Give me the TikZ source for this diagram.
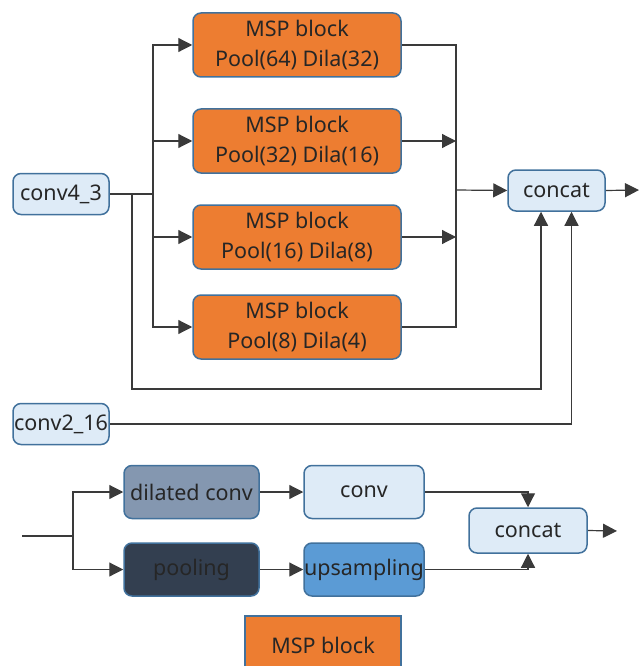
\documentclass[tikz,border=0pt]{standalone}
\usepackage{fontspec}
\setmainfont{Noto Sans}
\usetikzlibrary{arrows.meta}
\pgfdeclarelayer{edgelayer}
\pgfdeclarelayer{nodelayer}
\pgfsetlayers{edgelayer,nodelayer,main}
\definecolor{mspfill}{HTML}{ED7D31}
\definecolor{featfill}{HTML}{DEEBF7}
\definecolor{dilfill}{HTML}{8497B0}
\definecolor{poolfill}{HTML}{333F50}
\definecolor{upsfill}{HTML}{5B9BD5}
\definecolor{boxline}{HTML}{41719C}
\definecolor{linegray}{HTML}{3A3A3A}
\definecolor{textdark}{HTML}{262626}
\tikzstyle{edge}=[draw=linegray, line width=1.2pt]
\tikzstyle{arrow}=[edge, -{Triangle[length=14pt,width=14pt]}]
\tikzstyle{block}=[rectangle, rounded corners=8pt, draw=boxline, line width=1.5pt, text=textdark, inner sep=0pt, align=center, font=\fontsize{21.5}{30}\selectfont]
\tikzstyle{msp}=[block, fill=mspfill, minimum width=208pt, minimum height=64pt]
\tikzstyle{feat}=[block, fill=featfill, minimum width=96pt, minimum height=41pt]
\tikzstyle{unit}=[block, minimum width=135pt, minimum height=53pt]

\begin{document}
\begin{tikzpicture}[x=1pt,y=-1pt]
				\useasboundingbox (0,0) rectangle (640,666);
				\begin{pgfonlayer}{nodelayer}
					% multi-scale branch
					\node [style=feat] (conv43) at (61,194) {conv4\_3};
					\node [style=feat] (conv216) at (61,424) {conv2\_16};
					\node [style=msp] (msp1) at (297,45) {MSP block\\Pool(64) Dila(32)};
					\node [style=msp] (msp2) at (297,141) {MSP block\\Pool(32) Dila(16)};
					\node [style=msp] (msp3) at (297,237) {MSP block\\Pool(16) Dila(8)};
					\node [style=msp] (msp4) at (297,327) {MSP block\\Pool(8) Dila(4)};
					\node [style=feat, minimum width=97pt] (concat) at (556.5,190.5) {concat};
					% inside one MSP block
					\node [style=unit, fill=dilfill] (dil) at (191.5,492) {dilated conv};
					\node [style=unit, fill=poolfill] (pool) at (191.5,569.5) {pooling};
					\node [style=unit, fill=featfill, minimum width=120pt] (conv) at (364,492) {conv};
					\node [style=unit, fill=upsfill, minimum width=120pt] (ups) at (364,569.5) {upsampling};
					\node [style=feat, minimum width=118pt, minimum height=45pt] (concat2) at (528,530.5) {concat};
					% legend
					\node [style=msp, rounded corners=0pt, minimum width=156pt, minimum height=58pt] (legend) at (323,645) {MSP block};
				\end{pgfonlayer}
				\begin{pgfonlayer}{edgelayer}
					\coordinate (split) at (153,194);
					\coordinate (tap) at (132,194);
					\coordinate (join) at (456,190);
					\coordinate (low) at (541,389);
					\coordinate (out1) at (639,190);
					\coordinate (in) at (22,536);
					\coordinate (fork) at (73,536);
					\coordinate (out2) at (617,531);
					\draw [style=edge] (conv43.east) to (split);
					\draw [style=arrow] (split) |- (msp1.west);
					\draw [style=arrow] (split) |- (msp2.west);
					\draw [style=arrow] (split) |- (msp3.west);
					\draw [style=arrow] (split) |- (msp4.west);
					\draw [style=edge] (msp1.east) -| (join);
					\draw [style=edge] (msp4.east) -| (join);
					\draw [style=arrow] (msp2.east) to (join |- msp2.east);
					\draw [style=arrow] (msp3.east) to (join |- msp3.east);
					\draw [style=arrow] (join) to (concat.west);
					\draw [style=arrow] (tap) |- (low) to (low |- concat.south);
					\draw [style=arrow] (conv216.east) -| ([xshift=15pt]concat.south);
					\draw [style=arrow] (concat.east) to (out1);
					\draw [style=edge, line width=1.8pt] (in) to (fork);
					\draw [style=arrow] (fork) |- (dil.west);
					\draw [style=arrow] (fork) |- (pool.west);
					\draw [style=arrow] (dil) to (conv);
					\draw [style=arrow] (pool) to (ups);
					\draw [style=arrow] (conv.east) -| (concat2.north);
					\draw [style=arrow] (ups.east) -| (concat2.south);
					\draw [style=arrow] (concat2.east) to (out2);
				\end{pgfonlayer}
			\end{tikzpicture}
\end{document}
